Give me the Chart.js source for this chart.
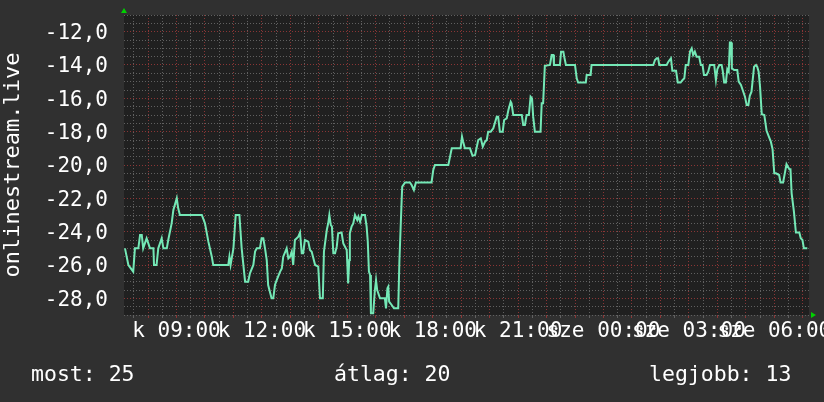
<!DOCTYPE html>
<html><head><meta charset="utf-8">
<script src="https://cdn.jsdelivr.net/npm/chart.js@4"></script>
<style>html,body{margin:0;padding:0;background:#303030;overflow:hidden}</style>
</head><body>
<canvas id="c" width="824" height="402"></canvas>
<script>
// time of day in hours (values above 24 are the next day)
const times = [7.19,7.31,7.48,7.54,7.66,7.72,7.78,7.83,7.95,8.07,8.19,8.21,8.30,8.36,8.48,8.54,8.66,8.71,8.83,8.89,9.01,9.06,9.12,9.89,10.00,10.12,10.24,10.29,10.82,10.86,10.90,11.00,11.08,11.21,11.29,11.41,11.52,11.58,11.70,11.76,11.82,11.93,11.99,12.05,12.11,12.17,12.22,12.34,12.40,
12.46,12.52,12.64,12.70,12.75,12.87,12.93,12.99,13.05,13.10,13.16,13.28,13.34,13.40,13.45,13.51,13.63,13.69,13.75,13.87,13.98,14.04,14.14,14.18,14.28,14.33,14.37,14.42,14.46,14.51,14.57,14.63,14.68,14.80,14.86,14.98,15.03,15.07,15.09,15.15,15.21,15.27,15.35,15.39,15.45,15.51,15.62,15.68,15.72,15.76,15.80,15.83,15.91,15.97,16.01,16.05,16.15,16.32,16.36,16.41,16.44,16.47,16.56,16.64,16.79,16.83,16.91,16.93,17.03,17.20,17.26,17.34,17.41,17.96,18.02,18.08,18.55,18.61,18.67,18.98,19.03,19.07,19.13,19.31,19.40,19.49,19.54,19.60,19.69,19.76,19.84,19.90,19.95,20.04,20.13,20.25,20.30,20.36,20.46,20.51,20.60,20.66,20.74,20.77,20.83,21.13,21.18,21.24,21.30,21.38,21.44,21.49,21.53,21.59,21.79,21.83,21.88,21.94,22.12,22.18,22.24,22.26,22.47,22.51,22.59,22.62,22.68,23.00,23.06,23.11,23.38,23.41,23.55,23.58,
25.75,25.81,25.87,25.92,25.96,26.22,26.28,26.37,26.42,26.55,26.61,26.71,26.78,26.84,26.89,26.98,27.04,27.10,27.15,27.21,27.27,27.36,27.42,27.48,27.53,27.62,27.68,27.74,27.89,27.95,28.00,28.07,28.15,28.19,28.24,28.30,28.35,28.40,28.44,28.48,28.51,28.59,28.70,28.75,28.83,28.89,28.97,29.03,29.09,29.14,29.20,29.29,29.36,29.40,29.45,29.50,29.56,29.65,29.73,29.81,29.88,29.94,30.00,30.06,30.17,30.22,30.31,30.37,30.43,30.53,30.57,30.61,30.69,30.76,30.88,30.93,30.99,31.04,31.16];
const values = [-25.0,-26.0,-26.4,-25.0,-25.0,-24.2,-24.2,-25.0,-24.4,-25.0,-25.0,-26.0,-26.0,-25.0,-24.4,-25.0,-25.0,-24.5,-23.5,-22.7,-22.0,-22.6,-23.0,-23.0,-23.5,-24.6,-25.5,-26.0,-26.0,-25.5,-26.0,-25.0,-23.0,-23.0,-25.0,-27.0,-27.0,-26.5,-26.0,-25.2,-25.0,-25.0,-24.4,-24.4,-25.0,-25.7,-27.2,-28.0,-28.0,
-27.2,-26.9,-26.4,-26.2,-25.5,-25.0,-25.6,-25.5,-25.2,-26.0,-24.5,-24.3,-24.05,-25.3,-25.3,-24.5,-24.6,-25.1,-25.2,-26.0,-26.1,-28.0,-28.0,-25.2,-23.9,-23.5,-23.0,-23.6,-23.7,-25.3,-25.3,-24.9,-24.1,-24.05,-24.7,-25.1,-27.1,-25.7,-24.1,-23.7,-23.5,-23.0,-23.3,-23.1,-23.4,-23.0,-23.0,-23.7,-24.6,-26.4,-26.6,-28.9,-28.9,-27.5,-26.9,-27.5,-28.0,-28.0,-28.6,-27.4,-27.3,-28.2,-28.4,-28.6,-28.6,-25.8,-22.1,-21.3,-21.05,-21.05,-21.2,-21.5,-21.05,-21.05,-20.3,-20.0,-20.0,-19.5,-19.0,-19.0,-18.3,-18.6,-19.0,-19.0,-19.45,-19.4,-19.0,-18.5,-18.4,-18.9,-18.6,-18.5,-18.0,-18.0,-17.8,-17.1,-17.1,-18.0,-18.0,-17.3,-17.2,-16.7,-16.2,-16.3,-17.0,-17.0,-17.6,-17.6,-17.0,-17.0,-15.9,-16.0,-17.1,-18.0,-18.0,-16.3,-16.3,-14.05,-14.0,-13.4,-13.4,-14.0,-14.0,-13.2,-13.2,-13.5,-14.0,-14.0,-14.8,-15.05,-15.05,-14.6,-14.6,-14.0,
-14.0,-13.7,-13.6,-13.6,-14.0,-14.0,-13.8,-13.6,-14.35,-14.35,-15.05,-15.05,-14.9,-14.8,-14.0,-14.0,-13.2,-13.0,-13.4,-13.2,-13.5,-13.5,-14.0,-14.0,-14.6,-14.6,-14.4,-14.0,-14.0,-14.9,-14.25,-14.0,-14.0,-14.35,-15.05,-15.05,-14.25,-14.4,-12.65,-12.65,-14.2,-14.3,-14.3,-15.0,-15.2,-15.5,-15.9,-16.4,-16.4,-15.85,-15.6,-14.1,-14.0,-14.1,-14.4,-15.3,-16.95,-17.0,-17.95,-18.3,-18.6,-19.05,-20.5,-20.5,-20.6,-21.05,-21.05,-20.5,-19.95,-20.25,-20.25,-21.7,-22.8,-24.05,-24.05,-24.4,-24.5,-25.0,-25.0];

const xLabelHours = [9, 12, 15, 18, 21, 24, 27, 30];
const xLabels = ['k 09:00', 'k 12:00', 'k 15:00', 'k 18:00', 'k 21:00', 'sze 00:00', 'sze 03:00', 'sze 06:00'];
const yLabelValues = [-28, -26, -24, -22, -20, -18, -16, -14, -12];
const yLabels = ['-28,0', '-26,0', '-24,0', '-22,0', '-20,0', '-18,0', '-16,0', '-14,0', '-12,0'];
const yAxisTitle = 'onlinestream.live';
const statNames = ['most', 'átlag', 'legjobb'];
const statValues = [25, 20, 13];

const X_MIN = 7.156, X_MAX = 31.22, Y_MIN = -29, Y_MAX = -11;
const FONT = '"DejaVu Sans Mono", "Liberation Mono", monospace';
const TXT = '#ffffff';
const MAJOR = 'rgba(150,55,55,0.9)';
const MINOR = 'rgba(100,100,100,0.95)';

const deco = {
  id: 'deco',
  beforeDraw(chart) {
    const {ctx, chartArea: a} = chart;
    ctx.save();
    ctx.fillStyle = '#303030';
    ctx.fillRect(0, 0, chart.width, chart.height);
    ctx.fillStyle = '#202020';
    ctx.fillRect(a.left, a.top, a.right - a.left, a.bottom - a.top);
    ctx.restore();
  },
  afterDraw(chart) {
    const {ctx, chartArea: a} = chart;
    ctx.save();
    ctx.fillStyle = '#00d000';
    ctx.beginPath();
    ctx.moveTo(a.left - 3, a.top - 2); ctx.lineTo(a.left + 3, a.top - 2); ctx.lineTo(a.left, a.top - 7);
    ctx.closePath(); ctx.fill();
    ctx.beginPath();
    ctx.moveTo(a.right + 2, a.bottom - 3); ctx.lineTo(a.right + 2, a.bottom + 3); ctx.lineTo(a.right + 7, a.bottom);
    ctx.closePath(); ctx.fill();
    ctx.fillStyle = TXT;
    ctx.font = '21.5px ' + FONT;
    ctx.textBaseline = 'alphabetic';
    const xs = [31, 334, 649];
    statNames.forEach((n, i) => ctx.fillText(n + ': ' + statValues[i], xs[i], 381));
    ctx.restore();
  }
};

new Chart(document.getElementById('c'), {
  type: 'line',
  data: {
    datasets: [{
      data: times.map((t, i) => ({x: t, y: values[i]})),
      borderColor: '#74e8b6',
      borderWidth: 2,
      pointRadius: 0,
      tension: 0,
      fill: false
    }]
  },
  options: {
    responsive: false,
    animation: false,
    devicePixelRatio: 1,
    layout: {padding: {left: 0, top: 15, right: 15, bottom: 0}},
    plugins: {legend: {display: false}, tooltip: {enabled: false}},
    scales: {
      x: {
        type: 'linear', min: X_MIN, max: X_MAX,
        afterBuildTicks: (s) => {
          const t = [];
          for (let h = 7.5; h <= 31.0001; h += 0.5) t.push({value: h});
          s.ticks = t;
        },
        afterFit: (s) => { s.height = 87; },
        grid: {
          color: (c) => (c.tick && Math.abs(c.tick.value - Math.round(c.tick.value)) < 1e-6) ? MAJOR : MINOR,
          lineWidth: 1, drawTicks: true, tickLength: 3
        },
        border: {display: false, dash: [1, 2]},
        ticks: {
          autoSkip: false, maxRotation: 0, minRotation: 0, padding: 1,
          color: TXT, font: {family: FONT, size: 21},
          callback: (v) => { const i = xLabelHours.findIndex(h => Math.abs(h - v) < 1e-6); return i >= 0 ? xLabels[i] : ''; }
        }
      },
      y: {
        type: 'linear', min: Y_MIN, max: Y_MAX,
        afterBuildTicks: (s) => {
          const t = [];
          for (let v = Y_MIN; v <= Y_MAX + 1e-6; v += 0.5) t.push({value: v});
          s.ticks = t;
        },
        afterFit: (s) => { s.width = 124; },
        grid: {
          color: (c) => (c.tick && Math.abs(c.tick.value / 2 - Math.round(c.tick.value / 2)) < 1e-6) ? MAJOR : MINOR,
          lineWidth: 1, drawTicks: true, tickLength: 16, tickColor: 'rgba(0,0,0,0)'
        },
        border: {display: false, dash: [1, 2]},
        ticks: {
          autoSkip: false, padding: 0, labelOffset: 2, color: TXT, font: {family: FONT, size: 21},
          callback: (v) => { const i = yLabelValues.findIndex(y => Math.abs(y - v) < 1e-6); return i >= 0 ? yLabels[i] : ''; }
        },
        title: {display: true, text: yAxisTitle, color: TXT, font: {family: FONT, size: 22}, padding: 0}
      }
    }
  },
  plugins: [deco]
});
</script>
</body></html>
